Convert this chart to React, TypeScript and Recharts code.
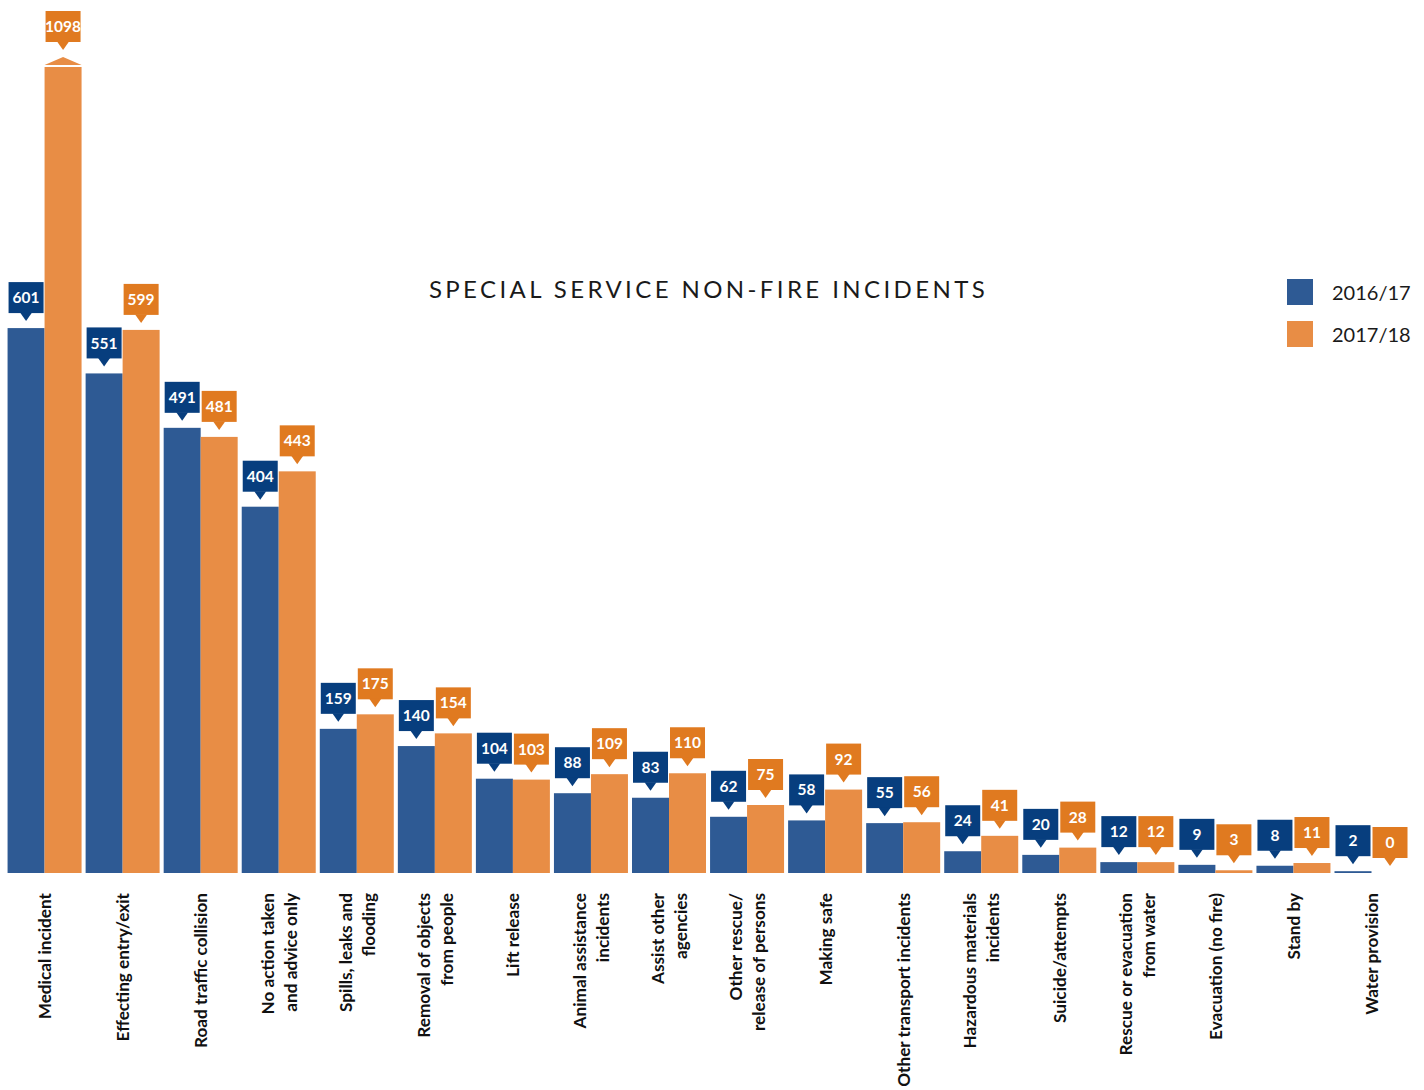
import React from 'react';
import { BarChart, Bar, XAxis, YAxis, Legend } from 'recharts';

const categories = [
  'Medical incident',
  'Effecting entry/exit',
  'Road traffic collision',
  'No action taken\nand advice only',
  'Spills, leaks and\nflooding',
  'Removal of objects\nfrom people',
  'Lift release',
  'Animal assistance\nincidents',
  'Assist other\nagencies',
  'Other rescue/\nrelease of persons',
  'Making safe',
  'Other transport incidents',
  'Hazardous materials\nincidents',
  'Suicide/attempts',
  'Rescue or evacuation\nfrom water',
  'Evacuation (no fire)',
  'Stand by',
  'Water provision',
];

const values2016 = [601, 551, 491, 404, 159, 140, 104, 88, 83, 62, 58, 55, 24, 20, 12, 9, 8, 2];
const values2017 = [1098, 599, 481, 443, 175, 154, 103, 109, 110, 75, 92, 56, 41, 28, 12, 3, 11, 0];

const seriesNames = ['2016/17', '2017/18'];
const chartTitle = 'SPECIAL SERVICE NON-FIRE INCIDENTS';

// broken axis: values above this are drawn with a break marker
const AXIS_MAX = 900;

const data = categories.map((c, i) => ({
  category: c,
  y2016: values2016[i],
  y2017: values2017[i],
}));

const BLUE_BAR = '#2E5A94';
const BLUE_LABEL = '#073E7E';
const ORANGE_BAR = '#E88D45';
const ORANGE_LABEL = '#E07A20';
const FONT = 'Lato, "Open Sans", sans-serif';

function makeShape(barColor: string, labelColor: string, key: 'y2016' | 'y2017') {
  return (props: any) => {
    const { x, y, width, height, payload } = props;
    const real = payload ? payload[key] : props.value;
    const broken = real > AXIS_MAX;
    const els: any[] = [];
    if (broken) {
      els.push(
        <polygon
          key="cap"
          points={`${x},${y + 8} ${x + width / 2},${y} ${x + width},${y + 8}`}
          fill={barColor}
        />
      );
      els.push(<rect key="bar" x={x} y={y + 10} width={width} height={Math.max(0, height - 10)} fill={barColor} />);
    } else if (height > 0) {
      els.push(<rect key="bar" x={x} y={y} width={width} height={height} fill={barColor} />);
    }
    const cx = x + width / 2;
    const tip = y - 7;
    const boxBottom = tip - 8;
    const boxTop = boxBottom - 31;
    const bw = width - 2;
    els.push(
      <rect key="lb" x={cx - bw / 2} y={boxTop} width={bw} height={31} fill={labelColor} />
    );
    els.push(
      <polygon
        key="lp"
        points={`${cx - 6},${boxBottom - 0.5} ${cx + 6},${boxBottom - 0.5} ${cx},${tip}`}
        fill={labelColor}
      />
    );
    els.push(
      <text
        key="lt"
        x={cx}
        y={boxTop + 15.5}
        dy="0.36em"
        textAnchor="middle"
        fill="#ffffff"
        fontFamily={FONT}
        fontWeight={700}
        fontSize={15.5}
      >
        {real}
      </text>
    );
    return <g>{els}</g>;
  };
}

const CategoryTick = (props: any) => {
  const { x, y, payload } = props;
  const lines = String(payload.value).split('\n');
  const spacing = 23;
  const start = -((lines.length - 1) * spacing) / 2;
  return (
    <g transform={`translate(${x},${y + 20}) rotate(-90)`}>
      {lines.map((ln, i) => (
        <text
          key={i}
          x={0}
          y={start + i * spacing + 6}
          textAnchor="end"
          fill="#111111"
          fontFamily={FONT}
          fontWeight={700}
          fontSize={17.2}
        >
          {ln}
        </text>
      ))}
    </g>
  );
};

const renderLegend = (props: any) => {
  const payload = props.payload || [];
  return (
    <div>
      {payload.map((p: any, i: number) => (
        <div
          key={i}
          style={{ display: 'flex', alignItems: 'center', height: 26, marginBottom: i === 0 ? 16 : 0 }}
        >
          <div style={{ width: 26, height: 26, background: p.color }} />
          <span
            style={{
              marginLeft: 19,
              fontFamily: FONT,
              fontSize: 20,
              color: '#1a1a1a',
              lineHeight: '26px',
            }}
          >
            {p.value}
          </span>
        </div>
      ))}
    </div>
  );
};

export default function App() {
  return (
    <div style={{ position: 'absolute', left: 0, top: 0, width: 1424, height: 1090, background: '#fff' }}>
      <div
        style={{
          position: 'absolute',
          left: 0,
          width: 1417,
          top: 277,
          textAlign: 'center',
          fontFamily: FONT,
          fontSize: 24,
          lineHeight: '24px',
          letterSpacing: 3.4,
          color: '#1a1a1a',
          zIndex: 2,
        }}
      >
        {chartTitle}
      </div>
      <BarChart
        width={1424}
        height={1090}
        data={data}
        margin={{ top: 57, right: 13, bottom: 0, left: 6 }}
        barCategoryGap="2%"
        barGap={0}
      >
        <XAxis
          dataKey="category"
          interval={0}
          tickLine={false}
          axisLine={false}
          tickSize={0}
          tickMargin={0}
          height={217}
          tick={<CategoryTick />}
        />
        <YAxis hide domain={[0, AXIS_MAX]} />
        <Legend
          layout="horizontal"
          verticalAlign="middle"
          align="center"
          content={renderLegend}
          wrapperStyle={{ position: 'absolute', left: 1287, top: 279, width: 137 }}
        />
        <Bar
          dataKey={(d: any) => Math.min(d.y2016, AXIS_MAX)}
          name={seriesNames[0]}
          fill={BLUE_BAR}
          isAnimationActive={false}
          shape={makeShape(BLUE_BAR, BLUE_LABEL, 'y2016')}
        />
        <Bar
          dataKey={(d: any) => Math.min(d.y2017, AXIS_MAX)}
          name={seriesNames[1]}
          fill={ORANGE_BAR}
          isAnimationActive={false}
          shape={makeShape(ORANGE_BAR, ORANGE_LABEL, 'y2017')}
        />
      </BarChart>
    </div>
  );
}
